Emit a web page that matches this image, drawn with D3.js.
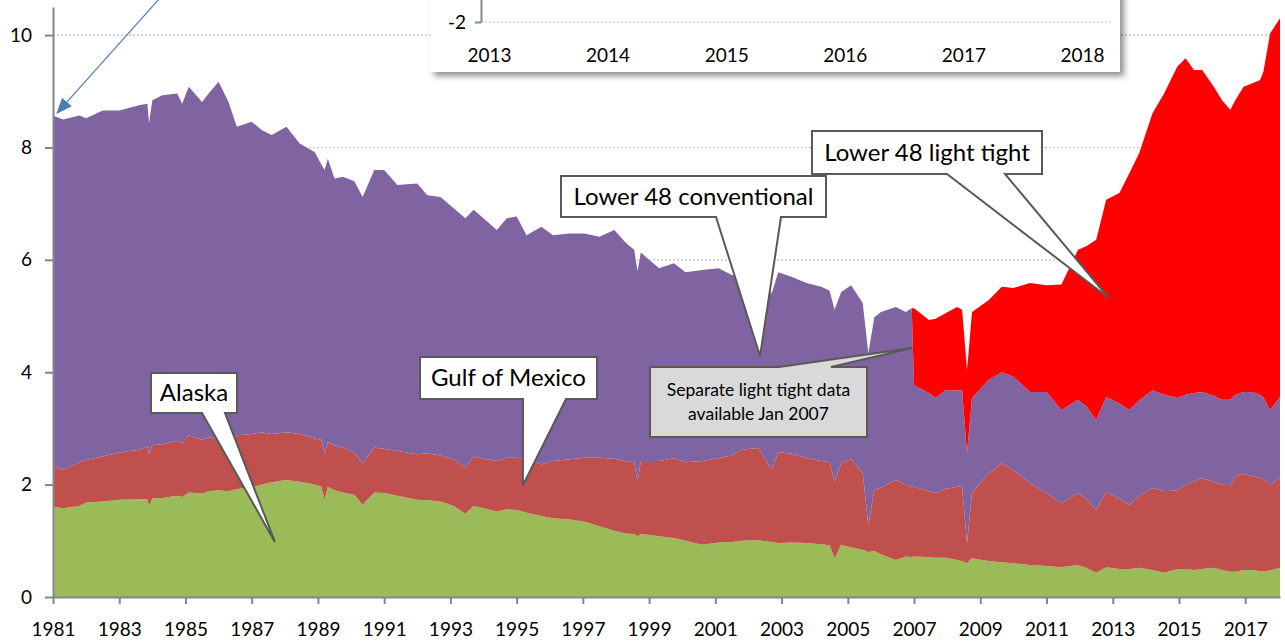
<!DOCTYPE html>
<html>
<head>
<meta charset="utf-8">
<script src="https://cdn.jsdelivr.net/npm/d3@7"></script>
<style>
  body { margin: 0; background: #fff; }
  svg { display: block; font-family: Lato, 'Noto Sans', sans-serif; }
</style>
</head>
<body>
<svg class="main" width="1285" height="643"></svg>
<script>
// sample dates (decimal years)
var dates = [1981.0, 1981.3, 1981.8, 1982.0, 1982.5, 1983.0, 1983.6, 1983.85, 1983.9, 1984.0,
  1984.3, 1984.75, 1984.9, 1985.1, 1985.5, 1985.7, 1986.0, 1986.3, 1986.55, 1987.0,
  1987.3, 1987.6, 1988.05, 1988.45, 1988.9, 1989.1, 1989.2, 1989.3, 1989.5, 1989.75,
  1990.1, 1990.35, 1990.7, 1991.0, 1991.4, 1992.0, 1992.3, 1992.7, 1993.1, 1993.45,
  1993.7, 1994.0, 1994.4, 1994.7, 1995.0, 1995.3, 1995.75, 1996.1, 1996.6, 1997.05,
  1997.5, 1997.95, 1998.3, 1998.55, 1998.65, 1998.75, 1999.3, 1999.75, 2000.1, 2000.6,
  2001.1, 2001.5, 2001.8, 2002.3, 2002.7, 2002.9, 2003.3, 2003.75, 2004.2, 2004.45,
  2004.6, 2004.8, 2005.1, 2005.45, 2005.62, 2005.8, 2006.0, 2006.45, 2006.75, 2006.93,
  2007.0, 2007.45, 2007.65, 2007.95, 2008.3, 2008.45, 2008.6, 2008.75, 2009.25, 2009.65,
  2010.0, 2010.5, 2011.0, 2011.45, 2011.95, 2012.2, 2012.5, 2012.8, 2013.2, 2013.5,
  2013.8, 2014.2, 2014.55, 2014.95, 2015.2, 2015.45, 2015.7, 2016.05, 2016.3, 2016.55,
  2016.7, 2016.95, 2017.2, 2017.45, 2017.55, 2017.75, 2018.05]

var alaska = [1.60, 1.58, 1.62, 1.68, 1.70, 1.73, 1.74, 1.74, 1.62, 1.76,
  1.76, 1.80, 1.78, 1.86, 1.84, 1.88, 1.90, 1.88, 1.92, 1.95,
  2.00, 2.04, 2.08, 2.05, 2.00, 1.96, 1.73, 1.96, 1.90, 1.86,
  1.82, 1.64, 1.86, 1.85, 1.80, 1.73, 1.72, 1.70, 1.62, 1.48,
  1.62, 1.58, 1.52, 1.56, 1.55, 1.50, 1.44, 1.40, 1.38, 1.34,
  1.26, 1.18, 1.13, 1.12, 1.08, 1.12, 1.08, 1.05, 1.00, 0.93,
  0.97, 0.98, 1.00, 1.01, 0.98, 0.96, 0.97, 0.96, 0.94, 0.92,
  0.69, 0.93, 0.88, 0.84, 0.80, 0.82, 0.76, 0.66, 0.72, 0.71,
  0.72, 0.71, 0.70, 0.70, 0.66, 0.64, 0.60, 0.69, 0.64, 0.62,
  0.60, 0.57, 0.55, 0.53, 0.57, 0.52, 0.43, 0.53, 0.50, 0.50,
  0.52, 0.48, 0.43, 0.50, 0.50, 0.48, 0.50, 0.52, 0.48, 0.45,
  0.45, 0.48, 0.48, 0.46, 0.46, 0.47, 0.52]

var gulf = [0.74, 0.68, 0.78, 0.76, 0.80, 0.84, 0.88, 0.94, 0.93, 0.94,
  0.96, 0.98, 0.96, 1.02, 0.96, 0.96, 0.92, 0.90, 0.96, 0.95,
  0.93, 0.86, 0.85, 0.85, 0.82, 0.84, 0.81, 0.79, 0.80, 0.80,
  0.75, 0.74, 0.80, 0.79, 0.80, 0.81, 0.84, 0.82, 0.83, 0.82,
  0.88, 0.88, 0.90, 0.92, 0.93, 0.95, 0.92, 1.02, 1.07, 1.14,
  1.22, 1.28, 1.29, 1.28, 0.98, 1.30, 1.34, 1.42, 1.40, 1.49,
  1.50, 1.54, 1.62, 1.64, 1.28, 1.62, 1.58, 1.51, 1.48, 1.48,
  1.36, 1.45, 1.57, 1.37, 0.48, 1.08, 1.19, 1.42, 1.28, 1.25,
  1.24, 1.17, 1.15, 1.22, 1.30, 1.32, 0.36, 1.16, 1.56, 1.76,
  1.66, 1.46, 1.30, 1.14, 1.28, 1.23, 1.12, 1.34, 1.25, 1.14,
  1.28, 1.46, 1.45, 1.40, 1.50, 1.57, 1.62, 1.53, 1.52, 1.54,
  1.70, 1.72, 1.67, 1.66, 1.64, 1.52, 1.62]

var conventional = [6.23, 6.24, 6.17, 6.08, 6.16, 6.09, 6.13, 6.10, 5.88, 6.14,
  6.21, 6.18, 6.04, 6.20, 6.01, 6.12, 6.35, 6.03, 5.49, 5.56,
  5.38, 5.32, 5.44, 5.17, 5.10, 4.90, 5.06, 5.05, 4.75, 4.82,
  4.83, 4.74, 4.94, 4.96, 4.73, 4.82, 4.59, 4.60, 4.47, 4.44,
  4.39, 4.28, 4.11, 4.26, 4.29, 3.99, 4.23, 4.02, 4.02, 3.99,
  3.93, 4.07, 3.88, 3.78, 3.74, 3.71, 3.43, 3.47, 3.38, 3.40,
  3.38, 3.21, 3.13, 3.05, 3.14, 3.20, 3.15, 3.12, 3.10, 3.05,
  3.06, 3.05, 3.10, 3.02, 3.06, 3.08, 3.12, 3.08, 3.07, 3.18,
  1.81, 1.75, 1.69, 1.76, 1.72, 1.72, 1.60, 1.69, 1.66, 1.62,
  1.66, 1.62, 1.80, 1.66, 1.66, 1.65, 1.60, 1.69, 1.70, 1.69,
  1.70, 1.74, 1.72, 1.64, 1.60, 1.58, 1.53, 1.53, 1.51, 1.52,
  1.45, 1.45, 1.50, 1.48, 1.45, 1.34, 1.42]

// light tight split only published from Jan 2007
var lightTight = [0, 0, 0, 0, 0, 0, 0, 0, 0, 0,
  0, 0, 0, 0, 0, 0, 0, 0, 0, 0,
  0, 0, 0, 0, 0, 0, 0, 0, 0, 0,
  0, 0, 0, 0, 0, 0, 0, 0, 0, 0,
  0, 0, 0, 0, 0, 0, 0, 0, 0, 0,
  0, 0, 0, 0, 0, 0, 0, 0, 0, 0,
  0, 0, 0, 0, 0, 0, 0, 0, 0, 0,
  0, 0, 0, 0, 0, 0, 0, 0, 0, 0,
  1.37, 1.30, 1.41, 1.37, 1.48, 1.43, 1.48, 1.53, 1.42, 1.52,
  1.58, 1.94, 1.90, 2.23, 2.67, 2.84, 3.21, 3.51, 3.74, 4.21,
  4.40, 4.93, 5.36, 5.90, 5.99, 5.75, 5.73, 5.50, 5.33, 5.16,
  5.24, 5.43, 5.49, 5.60, 5.80, 6.70, 6.74]

var seriesKeys = ['alaska', 'gulf', 'conventional', 'lightTight']
var seriesColors = ['#9BBB59', '#C0504D', '#8064A2', '#FF0000']

var yTicks = [0, 2, 4, 6, 8, 10]
var xTickYears = [1981, 1983, 1985, 1987, 1989, 1991, 1993, 1995, 1997, 1999,
  2001, 2003, 2005, 2007, 2009, 2011, 2013, 2015, 2017]
var insetYears = [2013, 2014, 2015, 2016, 2017, 2018]
var insetYTicks = [-2]

// callouts: tip in data units
var callouts = [
  {lines: ['Lower 48 light tight'], box: [812, 131, 1042, 174], base: [947, 1005], edge: 'bottom', tip: [2012.88, 5.32], size: 24, fill: '#fff'},
  {lines: ['Lower 48 conventional'], box: [561, 176, 826, 217], base: [716, 781], edge: 'bottom', tip: [2002.35, 4.29], size: 24, fill: '#fff'},
  {lines: ['Separate light tight data', 'available Jan 2007'], box: [650, 367, 867, 437], base: [779, 831], edge: 'top', tip: [2006.94, 4.43], size: 17.5, fill: '#D9D9D9'},
  {lines: ['Gulf of Mexico'], box: [420, 357, 597, 399], base: [523, 566], edge: 'bottom', tip: [1995.19, 1.99], size: 24, fill: '#fff'},
  {lines: ['Alaska'], box: [151, 373, 237, 413], base: [202, 225], edge: 'bottom', tip: [1987.70, 0.98], size: 24, fill: '#fff'}
]

var svg = d3.select('svg.main')

// build table for the stack
var table = dates.map(function(d, i) {
  return {date: d, alaska: alaska[i], gulf: gulf[i], conventional: conventional[i], lightTight: lightTight[i]}
})
var stack = d3.stack().keys(seriesKeys).order(d3.stackOrderNone).offset(d3.stackOffsetNone)
var layers = stack(table)

const x = d3.scaleLinear().domain([1981, 2018.05]).range([53, 1280])
const y = d3.scaleLinear().domain([0, 10.5]).range([597, 7])
const color = d3.scaleOrdinal().domain(seriesKeys).range(seriesColors)

var defs = svg.append('defs')
defs.append('filter').attr('id', 'shadow')
  .attr('x', '-10%').attr('y', '-10%').attr('width', '120%').attr('height', '140%')
  .append('feDropShadow')
  .attr('dx', 4).attr('dy', 4).attr('stdDeviation', 3)
  .attr('flood-color', '#000').attr('flood-opacity', 0.45)
defs.append('marker').attr('id', 'arrow')
  .attr('markerUnits', 'userSpaceOnUse')
  .attr('markerWidth', 16).attr('markerHeight', 14)
  .attr('refX', 15).attr('refY', 6.5).attr('orient', 'auto')
  .append('path').attr('d', 'M0,0 L16,6.5 L0,13 Z').attr('fill', '#4A7EBB')

// gridlines
svg.append('g').selectAll('line')
  .data(yTicks.filter(d => d > 0))
  .join('line')
  .attr('x1', x.range()[0]).attr('x2', x.range()[1])
  .attr('y1', d => y(d)).attr('y2', d => y(d))
  .attr('stroke', '#BFBFBF').attr('stroke-width', 1.2)
  .attr('stroke-dasharray', '2,2')

// stacked areas
var area = d3.area()
  .x(d => x(d.data.date))
  .y0(d => y(d[0]))
  .y1(d => y(d[1]))
svg.append('g').selectAll('path')
  .data(layers)
  .join('path')
  .attr('fill', d => color(d.key))
  .attr('d', area)

// axes
const xAxis = svg.append('g')
  .attr('transform', `translate(0, ${y(0)})`)
  .call(d3.axisBottom(x).tickValues(xTickYears).tickFormat(d3.format('d'))
    .tickSize(7).tickSizeOuter(0).tickPadding(19))
const yAxis = svg.append('g')
  .attr('transform', `translate(${x(1981)}, 0)`)
  .call(d3.axisLeft(y).tickValues(yTicks).tickSize(8).tickSizeOuter(0).tickPadding(13))
;[xAxis, yAxis].forEach(function(a) {
  a.select('.domain').attr('stroke', '#868686').attr('stroke-width', 2)
  a.selectAll('.tick line').attr('stroke', '#868686').attr('stroke-width', 2)
  a.selectAll('text').attr('fill', '#000').attr('font-size', 19).attr('font-family', 'Lato')
})

// inset (cropped view of another chart)
const ix = d3.scaleLinear().domain([2013, 2018]).range([489, 1082])
const iy = d3.scaleLinear().domain([-2, 0]).range([22, -40])
var inset = svg.append('g')
inset.append('rect')
  .attr('x', 430).attr('y', -20).attr('width', 690).attr('height', 92)
  .attr('fill', '#fff').attr('filter', 'url(#shadow)')
inset.selectAll('line.grid')
  .data(insetYTicks)
  .join('line').attr('class', 'grid')
  .attr('x1', 481).attr('x2', 1110)
  .attr('y1', d => iy(d)).attr('y2', d => iy(d))
  .attr('stroke', '#BFBFBF').attr('stroke-width', 1.2).attr('stroke-dasharray', '2,2')
const iyAxis = inset.append('g')
  .attr('transform', 'translate(481, 0)')
  .call(d3.axisLeft(iy).tickValues(insetYTicks).tickFormat(d => String(d))
    .tickSize(6).tickSizeOuter(0).tickPadding(9))
iyAxis.select('.domain').attr('stroke', '#868686').attr('stroke-width', 2)
iyAxis.selectAll('.tick line').attr('stroke', '#868686').attr('stroke-width', 2)
iyAxis.selectAll('text').attr('fill', '#000').attr('font-size', 19).attr('font-family', 'Lato')
const ixAxis = inset.append('g')
  .attr('transform', 'translate(0, 42)')
  .call(d3.axisBottom(ix).tickValues(insetYears).tickFormat(d3.format('d')).tickSize(0).tickPadding(7))
ixAxis.select('.domain').remove()
ixAxis.selectAll('text').attr('fill', '#000').attr('font-size', 19).attr('font-family', 'Lato')

// blue arrow to the 1981 start
svg.append('line')
  .attr('x1', 160).attr('y1', -2)
  .attr('x2', x(1981.12)).attr('y2', y(8.61))
  .attr('stroke', '#4A7EBB').attr('stroke-width', 1.2)
  .attr('marker-end', 'url(#arrow)')

// callouts
function calloutPath(c) {
  var x0 = c.box[0], y0 = c.box[1], x1 = c.box[2], y1 = c.box[3]
  var tx = x(c.tip[0]), ty = y(c.tip[1])
  var p = d3.path()
  if (c.edge == 'bottom') {
    p.moveTo(x0, y0); p.lineTo(x1, y0); p.lineTo(x1, y1)
    p.lineTo(c.base[1], y1); p.lineTo(tx, ty); p.lineTo(c.base[0], y1)
    p.lineTo(x0, y1)
  } else {
    p.moveTo(x0, y0); p.lineTo(c.base[0], y0); p.lineTo(tx, ty); p.lineTo(c.base[1], y0)
    p.lineTo(x1, y0); p.lineTo(x1, y1); p.lineTo(x0, y1)
  }
  p.closePath()
  return p.toString()
}
var cg = svg.append('g').selectAll('g')
  .data(callouts)
  .join('g')
cg.append('path')
  .attr('d', calloutPath)
  .attr('fill', d => d.fill)
  .attr('stroke', '#595959').attr('stroke-width', 2)
  .attr('stroke-linejoin', 'miter')
cg.each(function(c) {
  var g = d3.select(this)
  var cx = (c.box[0] + c.box[2]) / 2, cy = (c.box[1] + c.box[3]) / 2
  var lh = c.size * 1.35
  var startY = cy - (c.lines.length - 1) * lh / 2
  c.lines.forEach(function(t, i) {
    g.append('text')
      .attr('x', cx).attr('y', startY + i * lh)
      .attr('dy', '0.35em')
      .attr('text-anchor', 'middle')
      .attr('font-size', c.size)
      .attr('fill', '#000')
      .text(t)
  })
})
</script>
</body>
</html>
